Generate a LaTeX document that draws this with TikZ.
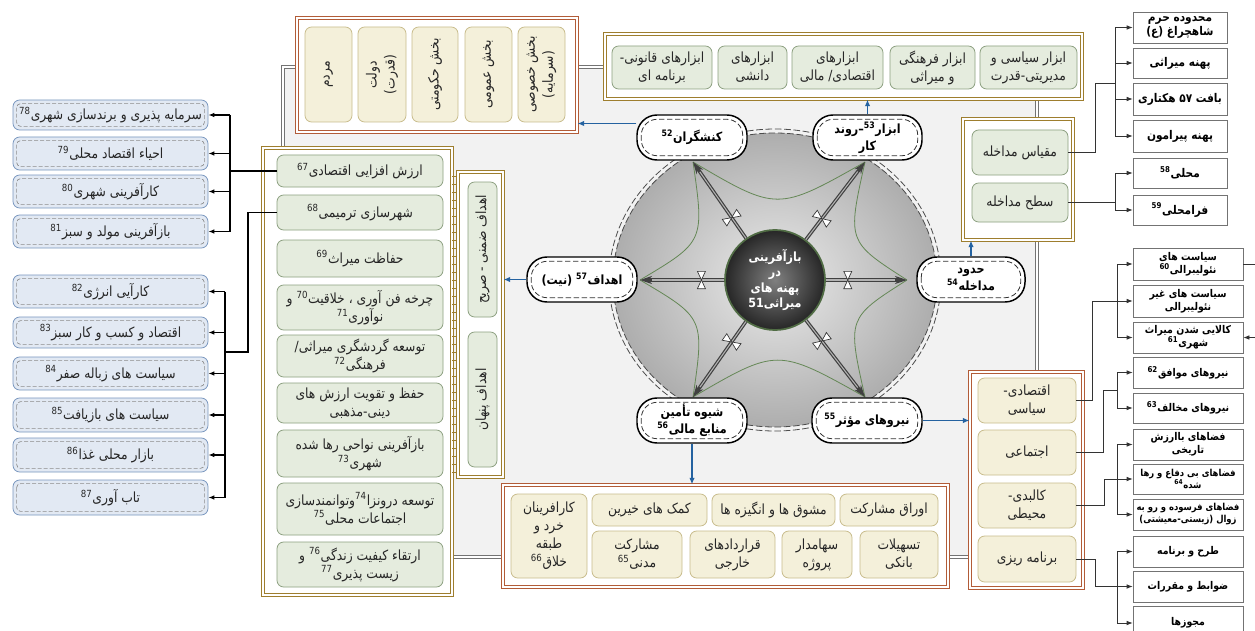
\documentclass[tikz,border=0pt]{standalone}
\usepackage{fontspec}
\usetikzlibrary{arrows.meta,calc,decorations.markings}
\TeXXeTstate=1
\newfontfamily\fa[Script=Arabic,FakeStretch=0.88]{DejaVu Sans}
\newcommand\RT[1]{\beginR #1\endR}
\newcommand\sps[1]{\textsuperscript{#1}}
\newcommand\bx[7]{\node[#1,minimum width={(#5-#3)*0.75pt},minimum height={(#6-#4)*0.75pt}] (#2) at ({(#3+#5)/2},{(#4+#6)/2}) {#7};}
\definecolor{gold}{RGB}{158,126,46}
\definecolor{copper}{RGB}{178,92,56}
\definecolor{gfill}{RGB}{229,236,222}
\definecolor{gdraw}{RGB}{140,160,128}
\definecolor{cfill}{RGB}{244,240,218}
\definecolor{cdraw}{RGB}{200,188,140}
\definecolor{bfill}{RGB}{226,233,243}
\definecolor{bdraw}{RGB}{120,150,190}
\definecolor{ablue}{RGB}{36,98,160}
\definecolor{arcg}{RGB}{100,135,85}
\tikzset{
 grpgold/.style={draw=gold, line width=0.6pt, double=white, double distance=1.4pt, fill=white, inner sep=0pt},
 grpcopper/.style={draw=copper, line width=0.6pt, double=white, double distance=1.4pt, fill=white, inner sep=0pt},
 gsub/.style={draw=gdraw, line width=0.6pt, fill=gfill, rounded corners=5pt, align=center, inner sep=1pt, font=\fa\fontsize{10.5}{13.5}\selectfont, text=black!85},
 csub/.style={gsub, draw=cdraw, fill=cfill},
 bsub/.style={gsub, draw=bdraw, fill=bfill},
 rottxt/.style={rotate=90, align=center, inner sep=0pt, font=\fa\fontsize{10.5}{13.5}\selectfont, text=black!85},
 plainbox/.style={draw=black!55, line width=0.6pt, fill=white, align=center, inner sep=1pt, font=\fa\bfseries\fontsize{8}{9.5}\selectfont},
 bigplain/.style={plainbox, font=\fa\bfseries\fontsize{9}{10}\selectfont},
 smallplain/.style={plainbox, font=\fa\bfseries\fontsize{7.2}{9}\selectfont},
 pill/.style={draw=black, line width=1.1pt, fill=white, rounded corners=15pt, align=center, inner sep=1pt, font=\fa\bfseries\fontsize{9.5}{12.5}\selectfont},
 conn/.style={draw=black!80, line width=0.6pt},
 carr/.style={conn, -{Latex[length=4.5pt,width=3.5pt]}},
 lconn/.style={draw=black, line width=0.9pt},
 larr/.style={lconn, -{Latex[length=4.5pt,width=3.5pt]}},
 barrow/.style={draw=ablue, line width=1.1pt, -{Latex[length=5pt,width=4pt]}},
 ring/.style={draw=black!70, line width=0.6pt, dash pattern=on 5pt off 2pt},
 arcline/.style={draw=arcg, line width=0.6pt},
}
\begin{document}
\begin{tikzpicture}[x=0.75pt,y=-0.75pt]
\useasboundingbox (0,0) rectangle (1255,631);
\fill[white] (0,0) rectangle (1255,631);
% frame
\draw[draw=black!55, line width=0.7pt, double=white, double distance=1.2pt, fill=black!5] (283,67) rectangle (1037,557);
% central ellipse
\shade[inner color=black!8, outer color=black!32] (775,280) ellipse [x radius=121.5pt, y radius=110.25pt];
\draw[ring] (775,280) ellipse [x radius=121.5pt, y radius=110.25pt];
\draw[ring] (775,280) ellipse [x radius=124.5pt, y radius=113.25pt];
\coordinate (cc) at (775,280);
\coordinate (v1) at (693,162);
\coordinate (v2) at (865,162);
\coordinate (v3) at (907,280);
\coordinate (v4) at (865,397);
\coordinate (v5) at (693,397);
\coordinate (v6) at (640,280);
% arcs
\coordinate (m12) at ($(v1)!0.5!(v2)$);
\coordinate (m23) at ($(v2)!0.5!(v3)$);
\coordinate (m34) at ($(v3)!0.5!(v4)$);
\coordinate (m45) at ($(v4)!0.5!(v5)$);
\coordinate (m56) at ($(v5)!0.5!(v6)$);
\coordinate (m61) at ($(v6)!0.5!(v1)$);
\draw[arcline] (v1) .. controls ($(m12)!0.42!(cc)$) .. (v2);
\draw[arcline] (v2) .. controls ($(m23)!0.35!(cc)$) .. (v3);
\draw[arcline] (v3) .. controls ($(m34)!0.35!(cc)$) .. (v4);
\draw[arcline] (v4) .. controls ($(m45)!0.42!(cc)$) .. (v5);
\draw[arcline] (v5) .. controls ($(m56)!0.35!(cc)$) .. (v6);
\draw[arcline] (v6) .. controls ($(m61)!0.35!(cc)$) .. (v1);
% centre
\node[circle, minimum size=75pt, draw=arcg!80!black, line width=1.3pt, inner color=black!50, outer color=black!85, text=white, align=center, inner sep=0pt, font=\fa\bfseries\fontsize{9.5}{11.5}\selectfont] (c) at (cc) {\RT{بازآفرینی}\\\RT{در}\\\RT{پهنه های}\\\RT{میراثی\mbox{51}}};
\foreach \v in {v1,v2,v3,v4,v5,v6} {
 \draw[line width=2.6pt, black!75, -{Stealth[length=9pt,width=6pt]}] (c) -- (\v);
 \draw[line width=0.8pt, black!30, shorten >=9pt] (c) -- (\v);
 \path[decorate, decoration={markings, mark=at position 0.27 with {\draw[black!80, fill=white, line width=0.5pt] (-3pt,-6.5pt) -- (3pt,-6.5pt) -- (-3pt,6.5pt) -- (3pt,6.5pt) -- cycle;}}] (c) -- (\v);
}
% outer pills
\bx{pill}{kon}{637}{115}{747}{160}{\RT{کنشگران\sps{52}}}
\bx{pill}{abz}{813}{115}{922}{160}{\RT{ابزار\sps{53}\mbox{–}روند}\\\RT{کار}}
\bx{pill}{hod}{917}{257}{1025}{302}{\RT{حدود}\\\RT{مداخله\sps{54}}}
\bx{pill}{nir}{812}{398}{922}{443}{\RT{نیروهای مؤثر\sps{55}}}
\bx{pill}{shi}{637}{398}{747}{443}{\RT{شیوه تأمین}\\\RT{منابع مالی\sps{56}}}
\bx{pill}{ahd}{527}{257}{637}{302}{\RT{اهداف\sps{57} (نیت)}}
\foreach \n in {kon,abz,hod,nir,shi,ahd}
 \draw[black!80, line width=0.6pt, dash pattern=on 4pt off 2pt, rounded corners=12pt] ($(\n.north west)+(5,5)$) rectangle ($(\n.south east)+(-5,-5)$);
% actors box
\bx{grpcopper}{act}{297}{18}{577}{132}{}
\bx{csub}{a1}{305}{27}{352}{122}{}
\bx{csub}{a2}{358}{27}{406}{122}{}
\bx{csub}{a3}{412}{27}{458}{122}{}
\bx{csub}{a4}{465}{27}{512}{122}{}
\bx{csub}{a5}{518}{27}{565}{122}{}
\node[rottxt] (a1t) at (a1) {\RT{مردم}};
\node[rottxt] (a2t) at (a2) {\RT{دولت}\\\RT{(قدرت)}};
\node[rottxt] (a3t) at (a3) {\RT{بخش حکومتی}};
\node[rottxt] (a4t) at (a4) {\RT{بخش عمومی}};
\node[rottxt] (a5t) at (a5) {\RT{بخش خصوصی}\\\RT{(سرمایه)}};
% tools box
\bx{grpgold}{tools}{605}{34}{1082}{99}{}
\bx{gsub}{t1}{612}{46}{712}{89}{\RT{ابزارهای قانونی\mbox{-}}\\\RT{برنامه ای}}
\bx{gsub}{t2}{718}{46}{787}{89}{\RT{ابزارهای}\\\RT{دانشی}}
\bx{gsub}{t3}{792}{46}{883}{89}{\RT{ابزارهای}\\\RT{اقتصادی\mbox{/} مالی}}
\bx{gsub}{t4}{890}{46}{975}{89}{\RT{ابزار فرهنگی}\\\RT{و میراثی}}
\bx{gsub}{t5}{980}{46}{1077}{89}{\RT{ابزار سیاسی و}\\\RT{مدیریتی-قدرت}}
% intervention box
\bx{grpgold}{mdk}{963}{119}{1073}{240}{}
\bx{gsub}{m1}{972}{130}{1068}{175}{\RT{مقیاس مداخله}}
\bx{gsub}{m2}{972}{183}{1068}{222}{\RT{سطح مداخله}}
% right top list
\bx{bigplain}{r1}{1133}{12}{1227}{43}{\RT{محدوده حرم}\\\RT{شاهچراغ (ع)}}
\bx{bigplain}{r2}{1133}{48}{1227}{78}{\RT{پهنه میراثی}}
\bx{bigplain}{r3}{1133}{83}{1227}{115}{\RT{بافت ۵۷ هکتاری}}
\bx{bigplain}{r4}{1133}{120}{1227}{152}{\RT{پهنه پیرامون}}
\bx{bigplain}{r5}{1133}{158}{1227}{188}{\RT{محلی\sps{58}}}
\bx{bigplain}{r6}{1133}{195}{1227}{225}{\RT{فرامحلی\sps{59}}}
\coordinate (bA) at (1115,0);
\draw[conn] (m1.east) -| (1095,83) -- (1115,83);
\draw[conn] (bA |- r1.west) -- (bA |- r4.west);
\foreach \n in {r1,r2,r3,r4} \draw[carr] (bA |- \n.west) -- (\n.west);
\draw[conn] (m2.east) -- (m2.east -| bA);
\draw[conn] (bA |- r5.west) -- (bA |- r6.west);
\foreach \n in {r5,r6} \draw[carr] (bA |- \n.west) -- (\n.west);
% effective forces box
\bx{grpcopper}{egrp}{970}{372}{1083}{588}{}
\bx{csub}{e1}{978}{378}{1076}{423}{\RT{اقتصادی\mbox{-}}\\\RT{سیاسی}}
\bx{csub}{e2}{978}{430}{1076}{475}{\RT{اجتماعی}}
\bx{csub}{e3}{978}{483}{1076}{528}{\RT{کالبدی\mbox{-}}\\\RT{محیطی}}
\bx{csub}{e4}{978}{536}{1076}{582}{\RT{برنامه ریزی}}
% right lower list
\bx{plainbox}{s1}{1133}{248}{1243}{280}{\RT{سیاست های}\\\RT{نئولیبرالی\sps{60}}}
\bx{plainbox}{s2}{1133}{285}{1243}{317}{\RT{سیاست های غیر}\\\RT{نئولیبرالی}}
\bx{plainbox}{s3}{1133}{322}{1243}{353}{\RT{کالایی شدن میراث}\\\RT{شهری\sps{61}}}
\bx{plainbox}{s4}{1133}{357}{1243}{388}{\RT{نیروهای موافق\sps{62}}}
\bx{plainbox}{s5}{1133}{393}{1243}{423}{\RT{نیروهای مخالف\sps{63}}}
\bx{plainbox}{s6}{1133}{429}{1243}{460}{\RT{فضاهای باارزش}\\\RT{تاریخی}}
\bx{smallplain}{s7}{1133}{464}{1243}{494}{\RT{فضاهای بی دفاع و رها}\\\RT{شده\sps{64}}}
\bx{smallplain}{s8}{1133}{499}{1243}{530}{\RT{فضاهای فرسوده و رو به}\\\RT{زوال (زیستی-معیشتی)}}
\bx{plainbox}{s9}{1133}{536}{1243}{567}{\RT{طرح و برنامه}}
\bx{plainbox}{s10}{1133}{571}{1243}{602}{\RT{ضوابط و مقررات}}
\bx{plainbox}{s11}{1133}{606}{1243}{640}{\RT{مجوزها}}
\coordinate (bB) at (1117,0);
\draw[carr] (e1.east) -| ($(s2.west)+(-40,0)$) -- (s2.west);
\draw[conn] (bB |- s1.west) -- (bB |- s3.west);
\foreach \n in {s1,s3} \draw[carr] (bB |- \n.west) -- (\n.west);
\draw[conn] (e2.east) -| (1103,390) -- (1117,390);
\draw[conn] (bB |- s4.west) -- (bB |- s5.west);
\foreach \n in {s4,s5} \draw[carr] (bB |- \n.west) -- (\n.west);
\draw[carr] (e3.east) -| ($(s7.west)+(-28,0)$) -- (s7.west);
\draw[conn] (bB |- s6.west) -- (bB |- s8.west);
\foreach \n in {s6,s8} \draw[carr] (bB |- \n.west) -- (\n.west);
\draw[carr] (e4.east) -| ($(s10.west)+(-37,0)$) -- (s10.west);
\draw[conn] (bB |- s9.west) -- (bB |- s11.west);
\foreach \n in {s9,s11} \draw[carr] (bB |- \n.west) -- (\n.west);
\coordinate (o1) at ($(s1.east)+(20,0)$);
\coordinate (o3) at ($(s3.east)+(20,0)$);
\draw[conn] (s1.east) -- (o1);
\draw[carr] (o3) -- (s3.east);
% funding box
\bx{grpcopper}{fund}{503}{485}{948}{587}{}
\bx{csub}{f1}{840}{494}{938}{526}{\RT{اوراق مشارکت}}
\bx{csub}{f2}{712}{494}{835}{526}{\RT{مشوق ها و انگیزه ها}}
\bx{csub}{f3}{592}{494}{707}{526}{\RT{کمک های خیرین}}
\bx{csub}{f4}{860}{531}{938}{578}{\RT{تسهیلات}\\\RT{بانکی}}
\bx{csub}{f5}{782}{531}{852}{578}{\RT{سهامدار}\\\RT{پروژه}}
\bx{csub}{f6}{690}{531}{775}{578}{\RT{قراردادهای}\\\RT{خارجی}}
\bx{csub}{f7}{592}{531}{682}{578}{\RT{مشارکت}\\\RT{مدنی\sps{65}}}
\bx{csub}{f8}{511}{494}{587}{578}{\RT{کارافرینان}\\\RT{خرد و}\\\RT{طبقه}\\\RT{خلاق\sps{66}}}
% goals column
\bx{grpgold}{goal}{263}{148}{452}{595}{}
\bx{gsub}{g1}{277}{155}{443}{187}{\RT{ارزش افزایی اقتصادی\sps{67}}}
\bx{gsub}{g2}{277}{195}{443}{230}{\RT{شهرسازی ترمیمی\sps{68}}}
\bx{gsub}{g3}{277}{240}{443}{277}{\RT{حفاظت میراث\sps{69}}}
\bx{gsub}{g4}{277}{285}{443}{330}{\RT{چرخه فن آوری ، خلاقیت\sps{70} و}\\\RT{نوآوری\sps{71}}}
\bx{gsub}{g5}{277}{335}{443}{377}{\RT{توسعه گردشگری میراثی\mbox{/}}\\\RT{فرهنگی\sps{72}}}
\bx{gsub}{g6}{277}{383}{443}{423}{\RT{حفظ و تقویت ارزش های}\\\RT{دینی-مذهبی}}
\bx{gsub}{g7}{277}{430}{443}{477}{\RT{بازآفرینی نواحی رها شده}\\\RT{شهری\sps{73}}}
\bx{gsub}{g8}{277}{483}{443}{535}{\RT{توسعه درونزا\sps{74}وتوانمندسازی}\\\RT{اجتماعات محلی\sps{75}}}
\bx{gsub}{g9}{277}{542}{443}{587}{\RT{ارتقاء کیفیت زندگی\sps{76} و}\\\RT{زیست پذیری\sps{77}}}
% ladder + inner goals box
\foreach \yy in {176,184,...,472} \draw[gold, line width=0.6pt] (452,\yy) -- (459,\yy);
\bx{grpgold}{goalin}{458}{172}{503}{477}{}
\bx{gsub}{h1}{468}{182}{497}{317}{}
\bx{gsub}{h2}{468}{332}{497}{467}{}
\node[rottxt] (h1t) at (h1) {\RT{اهداف ضمنی - صریح}};
\node[rottxt] (h2t) at (h2) {\RT{اهداف پنهان}};
% left lists
\bx{bsub}{l1}{13}{100}{208}{130}{\RT{سرمایه پذیری و برندسازی شهری\sps{78}}}
\bx{bsub}{l2}{13}{137}{208}{170}{\RT{احیاء اقتصاد محلی\sps{79}}}
\bx{bsub}{l3}{13}{175}{208}{208}{\RT{کارآفرینی شهری\sps{80}}}
\bx{bsub}{l4}{13}{215}{208}{248}{\RT{بازآفرینی مولد و سبز\sps{81}}}
\bx{bsub}{l5}{13}{275}{208}{308}{\RT{کارآیی انرژی\sps{82}}}
\bx{bsub}{l6}{13}{317}{208}{348}{\RT{اقتصاد و کسب و کار سبز\sps{83}}}
\bx{bsub}{l7}{13}{357}{208}{390}{\RT{سیاست های زباله صفر\sps{84}}}
\bx{bsub}{l8}{13}{398}{208}{432}{\RT{سیاست های بازیافت\sps{85}}}
\bx{bsub}{l9}{13}{438}{208}{472}{\RT{بازار محلی غذا\sps{86}}}
\bx{bsub}{l10}{13}{480}{208}{515}{\RT{تاب آوری\sps{87}}}
\foreach \n in {l1,l2,l3,l4,l5,l6,l7,l8,l9,l10}
 \draw[black!45, line width=0.5pt, dash pattern=on 3pt off 1.5pt, rounded corners=3pt] ($(\n.north west)+(4,4)$) rectangle ($(\n.south east)+(-4,-4)$);
\coordinate (bL1) at (230,0);
\draw[lconn] (g1.west) -- (g1.west -| bL1);
\draw[lconn] (bL1 |- l1.east) -- (bL1 |- l4.east);
\foreach \n in {l1,l2,l3,l4} \draw[larr] (bL1 |- \n.east) -- (\n.east);
\coordinate (bL2) at (225,0);
\draw[lconn] (g2.west) -| (248,352) -- (225,352);
\draw[lconn] (bL2 |- l5.east) -- (bL2 |- l10.east);
\foreach \n in {l5,l6,l7,l8,l9,l10} \draw[larr] (bL2 |- \n.east) -- (\n.east);
% blue arrows
\coordinate (kq) at ([yshift=10.5pt]kon.west);
\draw[barrow] (kq) -- (kq -| act.east);
\draw[barrow] (abz.north) -- (abz.north |- tools.south);
\draw[barrow] (hod.north) -- (hod.north |- mdk.south);
\draw[barrow] (nir.east) -- (nir.east -| egrp.west);
\draw[barrow] (shi.south) -- (shi.south |- fund.north);
\draw[barrow] (ahd.west) -- (ahd.west -| goalin.east);
\end{tikzpicture}
\end{document}
